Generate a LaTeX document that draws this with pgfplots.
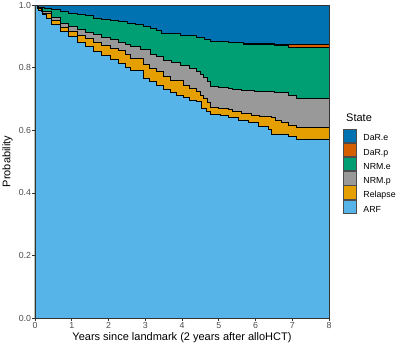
\documentclass[border=0pt]{standalone}
\usepackage{fontspec}
\setmainfont{Liberation Sans}
\usepackage{pgfplots}
\usepackage{pgfplotstable}
\pgfplotsset{compat=1.18}
\definecolor{dare}{HTML}{0072B2}
\definecolor{darp}{HTML}{D55E00}
\definecolor{nrme}{HTML}{009E73}
\definecolor{nrmp}{HTML}{999999}
\definecolor{relc}{HTML}{E69F00}
\definecolor{arfc}{HTML}{56B4E9}

% upper edge of each stacked state (cumulative probability)
\pgfplotstableread{
x y
0 1
8 1
}\dareTop
\pgfplotstableread{
x y
0 1
0.1 0.994
0.25 0.990
0.45 0.986
0.7 0.979
0.91 0.973
1.15 0.969
1.36 0.966
1.6 0.959
1.81 0.954
2.05 0.950
2.27 0.947
2.5 0.942
2.72 0.938
2.95 0.932
3.13 0.926
3.3 0.918
3.45 0.910
3.95 0.902
4.4 0.896
4.6 0.889
4.76 0.883
5.25 0.881
5.66 0.877
6.52 0.874
6.88 0.873
8 0.873
}\darpTop
\pgfplotstableread{
x y
0 1
0.1 0.994
0.25 0.990
0.45 0.986
0.7 0.979
0.91 0.973
1.15 0.969
1.36 0.966
1.6 0.959
1.81 0.954
2.05 0.950
2.27 0.947
2.5 0.942
2.72 0.938
2.95 0.932
3.13 0.926
3.3 0.918
3.45 0.910
3.95 0.902
4.4 0.896
4.6 0.889
4.76 0.883
5.25 0.881
5.66 0.875
6.52 0.870
6.88 0.865
8 0.865
}\nrmeTop
\pgfplotstableread{
x y
0 1
0.05 0.992
0.18 0.979
0.45 0.960
0.7 0.942
0.91 0.931
1.15 0.921
1.36 0.914
1.6 0.906
1.81 0.898
2.05 0.890
2.27 0.882
2.45 0.874
2.6 0.867
2.86 0.857
3.13 0.843
3.3 0.835
3.49 0.824
3.7 0.816
3.95 0.808
4.2 0.798
4.4 0.789
4.5 0.780
4.58 0.770
4.68 0.755
4.76 0.741
5.0 0.736
5.25 0.734
5.38 0.731
5.62 0.726
5.98 0.723
6.52 0.720
6.88 0.712
7.12 0.702
8 0.702
}\nrmpTop
\pgfplotstableread{
x y
0 1
0.05 0.990
0.2 0.975
0.45 0.950
0.7 0.930
0.91 0.917
1.15 0.904
1.36 0.894
1.6 0.882
1.81 0.872
2.05 0.862
2.27 0.854
2.45 0.842
2.6 0.829
2.94 0.810
3.12 0.798
3.31 0.787
3.5 0.772
3.67 0.760
4.04 0.744
4.2 0.735
4.4 0.723
4.5 0.712
4.58 0.702
4.68 0.688
4.76 0.673
5.0 0.670
5.25 0.667
5.38 0.659
5.62 0.654
5.89 0.649
6.11 0.643
6.43 0.640
6.55 0.632
6.7 0.624
6.88 0.617
7.12 0.609
8 0.609
}\relTop
\pgfplotstableread{
x y
0 1
0.05 0.990
0.1 0.983
0.2 0.970
0.3 0.958
0.45 0.938
0.7 0.915
0.91 0.899
1.15 0.881
1.36 0.867
1.6 0.852
1.81 0.840
2.05 0.826
2.27 0.814
2.45 0.802
2.6 0.790
2.94 0.767
3.12 0.755
3.31 0.744
3.5 0.732
3.67 0.721
3.85 0.712
4.04 0.704
4.2 0.697
4.4 0.691
4.53 0.670
4.65 0.660
4.76 0.651
5.03 0.647
5.25 0.641
5.53 0.633
5.8 0.625
6.07 0.611
6.34 0.603
6.43 0.588
6.88 0.579
7.12 0.572
8 0.571
}\arfTop

\newcommand{\keybox}[1]{\addlegendimage{legend image code/.code={
    \fill[#1] (0pt,-3.5pt) rectangle (13.3pt,9.8pt);
    \draw[black!70, line width=0.5pt] (0pt,-3.5pt) rectangle (13.3pt,9.8pt);}}}

\begin{document}
\begin{tikzpicture}
\useasboundingbox (-35pt,-31pt) rectangle (372pt,318pt);
\begin{axis}[
  scale only axis, width=294pt, height=313pt,
  axis on top, clip mode=individual,
  xmin=0, xmax=8, ymin=0, ymax=1,
  xtick={0,1,2,3,4,5,6,7,8},
  xticklabels={0,1,2,3,4,5,6,7,8},
  ytick={0,0.2,0.4,0.6,0.8,1},
  yticklabels={0.0,0.2,0.4,0.6,0.8,1.0},
  tick pos=left, tick align=outside,
  major tick length=2.75pt,
  axis line style={black!80, line width=0.5pt},
  tick style={black!80, line width=0.5pt},
  ticklabel style={font=\fontsize{8.8}{10}\selectfont, text=black!70},
  yticklabel style={inner sep=1pt},
  xticklabel style={inner sep=1pt},
  xlabel={Years since landmark (2 years after alloHCT)},
  ylabel={Probability},
  label style={font=\fontsize{11}{13}\selectfont},
  xlabel style={at={(axis description cs:0.5,0)}, anchor=center, yshift=-20pt},
  ylabel style={at={(axis description cs:0,0.5)}, anchor=center, yshift=27.5pt},
  legend cell align=left,
  legend style={at={(axis description cs:1,0.606)}, anchor=north west,
    xshift=13.7pt, draw=none, fill=none, inner sep=0pt, row sep=0.4pt,
    nodes={inner sep=0pt, font=\fontsize{8.8}{10}\selectfont},
    /tikz/every odd column/.append style={column sep=6.7pt}},
]
\addplot[fill=dare, draw=none, const plot, forget plot] table {\dareTop} \closedcycle;
\addplot[fill=darp, draw=none, const plot, forget plot] table {\darpTop} \closedcycle;
\addplot[fill=nrme, draw=none, const plot, forget plot] table {\nrmeTop} \closedcycle;
\addplot[fill=nrmp, draw=none, const plot, forget plot] table {\nrmpTop} \closedcycle;
\addplot[fill=relc, draw=none, const plot, forget plot] table {\relTop} \closedcycle;
\addplot[fill=arfc, draw=none, const plot, forget plot] table {\arfTop} \closedcycle;
% outlines of the stacked areas
\addplot[black, line width=0.6pt, const plot, forget plot] table {\darpTop};
\addplot[black, line width=0.6pt, const plot, forget plot] table {\nrmeTop};
\addplot[black, line width=0.6pt, const plot, forget plot] table {\nrmpTop};
\addplot[black, line width=0.6pt, const plot, forget plot] table {\relTop};
\addplot[black, line width=0.6pt, const plot, forget plot] table {\arfTop};
% legend
\keybox{dare}\addlegendentry{DaR.e}
\keybox{darp}\addlegendentry{DaR.p}
\keybox{nrme}\addlegendentry{NRM.e}
\keybox{nrmp}\addlegendentry{NRM.p}
\keybox{relc}\addlegendentry{Relapse}
\keybox{arfc}\addlegendentry{ARF}
\node[anchor=base west, font=\fontsize{11}{13}\selectfont, xshift=13.7pt]
  at (axis description cs:1,0.627) {State};
\end{axis}
\end{tikzpicture}
\end{document}
